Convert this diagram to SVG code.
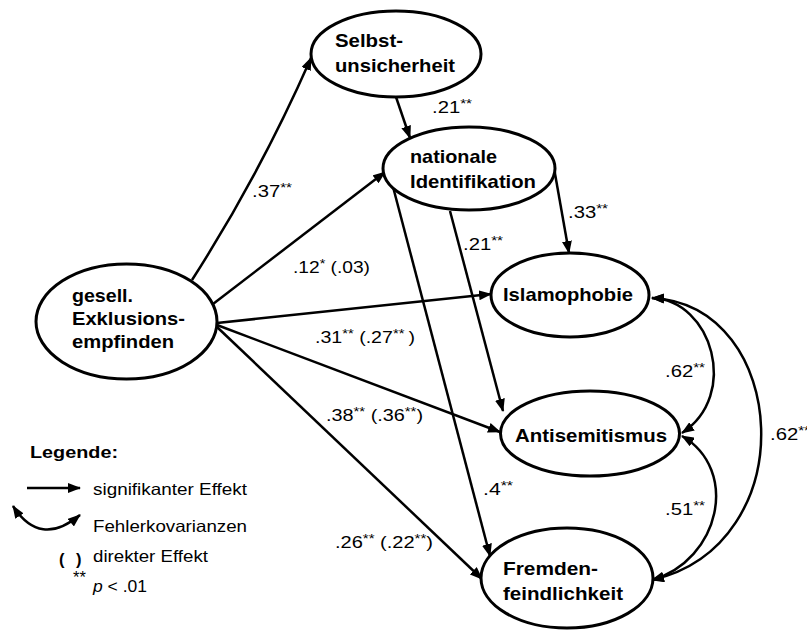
<svg xmlns="http://www.w3.org/2000/svg" width="807" height="630" viewBox="0 0 807 630">
  <defs>
    <marker id="ah" viewBox="0 0 13 10" refX="12" refY="5" markerWidth="13" markerHeight="10" markerUnits="userSpaceOnUse" orient="auto-start-reverse">
      <path d="M0,0 L13,5 L0,10 z" fill="#000"/>
    </marker>
    <style>
      .node ellipse { fill: #fff; stroke: #000; stroke-width: 3; }
      .node text { font-family: "Liberation Sans", Arial, sans-serif; font-weight: bold; font-size: 18.5px; fill: #000; }
      .edge { fill: none; stroke: #000; stroke-width: 2.5; marker-end: url(#ah); }
      .cov { fill: none; stroke: #000; stroke-width: 2.5; marker-start: url(#ah); marker-end: url(#ah); }
      .lbl { font-family: "Liberation Sans", Arial, sans-serif; font-size: 16px; fill: #000; }
      .sup { font-size: 12px; }
      .leg { font-family: "Liberation Sans", Arial, sans-serif; font-size: 16.5px; fill: #000; }
    </style>
  </defs>
  <rect width="807" height="630" fill="#fff"/>

  <!-- paths and covariances -->
  <g id="connectors">
    <path class="edge" d="M192,280 Q260,174 311,58"/>
    <path class="edge" d="M213,304 L385,172"/>
    <path class="edge" d="M217,323 L491,294"/>
    <path class="edge" d="M217,325 L500,432"/>
    <path class="edge" d="M217,327 L482,579"/>
    <path class="edge" d="M396,97 L410,138"/>
    <path class="edge" d="M554,168 L569,253"/>
    <path class="edge" d="M450,211 L503,411"/>
    <path class="edge" d="M392,183 L490,556"/>
    <path class="cov" d="M652,298 C712,300 740,395 682,433"/>
    <path class="cov" d="M652,298 C790,305 805,545 652,580"/>
    <path class="cov" d="M682,436 C740,470 720,560 652,580"/>
  </g>

  <!-- coefficients -->
  <g id="labels">
    <text class="lbl" x="252" y="197" textLength="40" lengthAdjust="spacingAndGlyphs">.37<tspan class="sup" dy="-5">**</tspan></text>
    <text class="lbl" x="293" y="273" textLength="77" lengthAdjust="spacingAndGlyphs">.12<tspan class="sup" dy="-5">*</tspan><tspan dy="5"> (.03)</tspan></text>
    <text class="lbl" x="315" y="343" textLength="100" lengthAdjust="spacingAndGlyphs">.31<tspan class="sup" dy="-5">**</tspan><tspan dy="5"> (.27</tspan><tspan class="sup" dy="-5">** </tspan><tspan dy="5">)</tspan></text>
    <text class="lbl" x="326" y="421" textLength="97" lengthAdjust="spacingAndGlyphs">.38<tspan class="sup" dy="-5">**</tspan><tspan dy="5"> (.36</tspan><tspan class="sup" dy="-5">**</tspan><tspan dy="5">)</tspan></text>
    <text class="lbl" x="335" y="548" textLength="98" lengthAdjust="spacingAndGlyphs">.26<tspan class="sup" dy="-5">**</tspan><tspan dy="5"> (.22</tspan><tspan class="sup" dy="-5">**</tspan><tspan dy="5">)</tspan></text>
    <text class="lbl" x="432" y="113" textLength="40" lengthAdjust="spacingAndGlyphs">.21<tspan class="sup" dy="-5">**</tspan></text>
    <text class="lbl" x="568" y="218" textLength="40" lengthAdjust="spacingAndGlyphs">.33<tspan class="sup" dy="-5">**</tspan></text>
    <text class="lbl" x="463" y="250" textLength="40" lengthAdjust="spacingAndGlyphs">.21<tspan class="sup" dy="-5">**</tspan></text>
    <text class="lbl" x="483" y="495" textLength="30" lengthAdjust="spacingAndGlyphs">.4<tspan class="sup" dy="-5">**</tspan></text>
    <text class="lbl" x="665" y="377" textLength="40" lengthAdjust="spacingAndGlyphs">.62<tspan class="sup" dy="-5">**</tspan></text>
    <text class="lbl" x="770" y="440" textLength="40" lengthAdjust="spacingAndGlyphs">.62<tspan class="sup" dy="-5">**</tspan></text>
    <text class="lbl" x="665" y="515" textLength="40" lengthAdjust="spacingAndGlyphs">.51<tspan class="sup" dy="-5">**</tspan></text>
  </g>

  <g id="selbstunsicherheit" class="node">
    <ellipse cx="396" cy="54" rx="85" ry="43"/>
    <text x="335" y="47" textLength="68" lengthAdjust="spacingAndGlyphs">Selbst-</text>
    <text x="335" y="72" textLength="120" lengthAdjust="spacingAndGlyphs">unsicherheit</text>
  </g>

  <g id="nationale-identifikation" class="node">
    <ellipse cx="469" cy="168.5" rx="86" ry="41.5"/>
    <text x="410" y="163" textLength="87" lengthAdjust="spacingAndGlyphs">nationale</text>
    <text x="410" y="188" textLength="126" lengthAdjust="spacingAndGlyphs">Identifikation</text>
  </g>

  <g id="islamophobie" class="node">
    <ellipse cx="570" cy="295" rx="79" ry="42"/>
    <text x="503" y="301" textLength="130" lengthAdjust="spacingAndGlyphs">Islamophobie</text>
  </g>

  <g id="antisemitismus" class="node">
    <ellipse cx="590" cy="433.5" rx="89.5" ry="42.5"/>
    <text x="515" y="442" textLength="152" lengthAdjust="spacingAndGlyphs">Antisemitismus</text>
  </g>

  <g id="fremdenfeindlichkeit" class="node">
    <ellipse cx="567" cy="578" rx="86" ry="50"/>
    <text x="503" y="575" textLength="95" lengthAdjust="spacingAndGlyphs">Fremden-</text>
    <text x="503" y="600" textLength="120" lengthAdjust="spacingAndGlyphs">feindlichkeit</text>
  </g>

  <g id="exklusionsempfinden" class="node">
    <ellipse cx="126.5" cy="321.5" rx="90.5" ry="57.5"/>
    <text x="72" y="302" textLength="61" lengthAdjust="spacingAndGlyphs">gesell.</text>
    <text x="72" y="325" textLength="113" lengthAdjust="spacingAndGlyphs">Exklusions-</text>
    <text x="72" y="348" textLength="102" lengthAdjust="spacingAndGlyphs">empfinden</text>
  </g>

  <!-- key -->
  <g id="legende">
    <text class="leg" x="30" y="458" font-weight="bold" font-size="17.5" textLength="88" lengthAdjust="spacingAndGlyphs">Legende:</text>
    <path d="M27,488 L80,488" fill="none" stroke="#000" stroke-width="2.5" marker-end="url(#ah)"/>
    <text class="leg" x="93" y="495" textLength="154" lengthAdjust="spacingAndGlyphs">signifikanter Effekt</text>
    <path d="M13,506 Q40,548 80,515" fill="none" stroke="#000" stroke-width="2.5" marker-start="url(#ah)" marker-end="url(#ah)"/>
    <text class="leg" x="93" y="532" textLength="154" lengthAdjust="spacingAndGlyphs">Fehlerkovarianzen</text>
    <text class="leg" x="59" y="565" font-weight="bold" font-size="18">(</text>
    <text class="leg" x="76" y="565" font-weight="bold" font-size="18">)</text>
    <text class="leg" x="93" y="562" textLength="115" lengthAdjust="spacingAndGlyphs">direkter Effekt</text>
    <text class="leg" x="73" y="583" font-size="12">**</text>
    <text class="leg" x="93" y="592" textLength="54" lengthAdjust="spacingAndGlyphs"><tspan font-style="italic">p</tspan> &lt; .01</text>
  </g>
</svg>
